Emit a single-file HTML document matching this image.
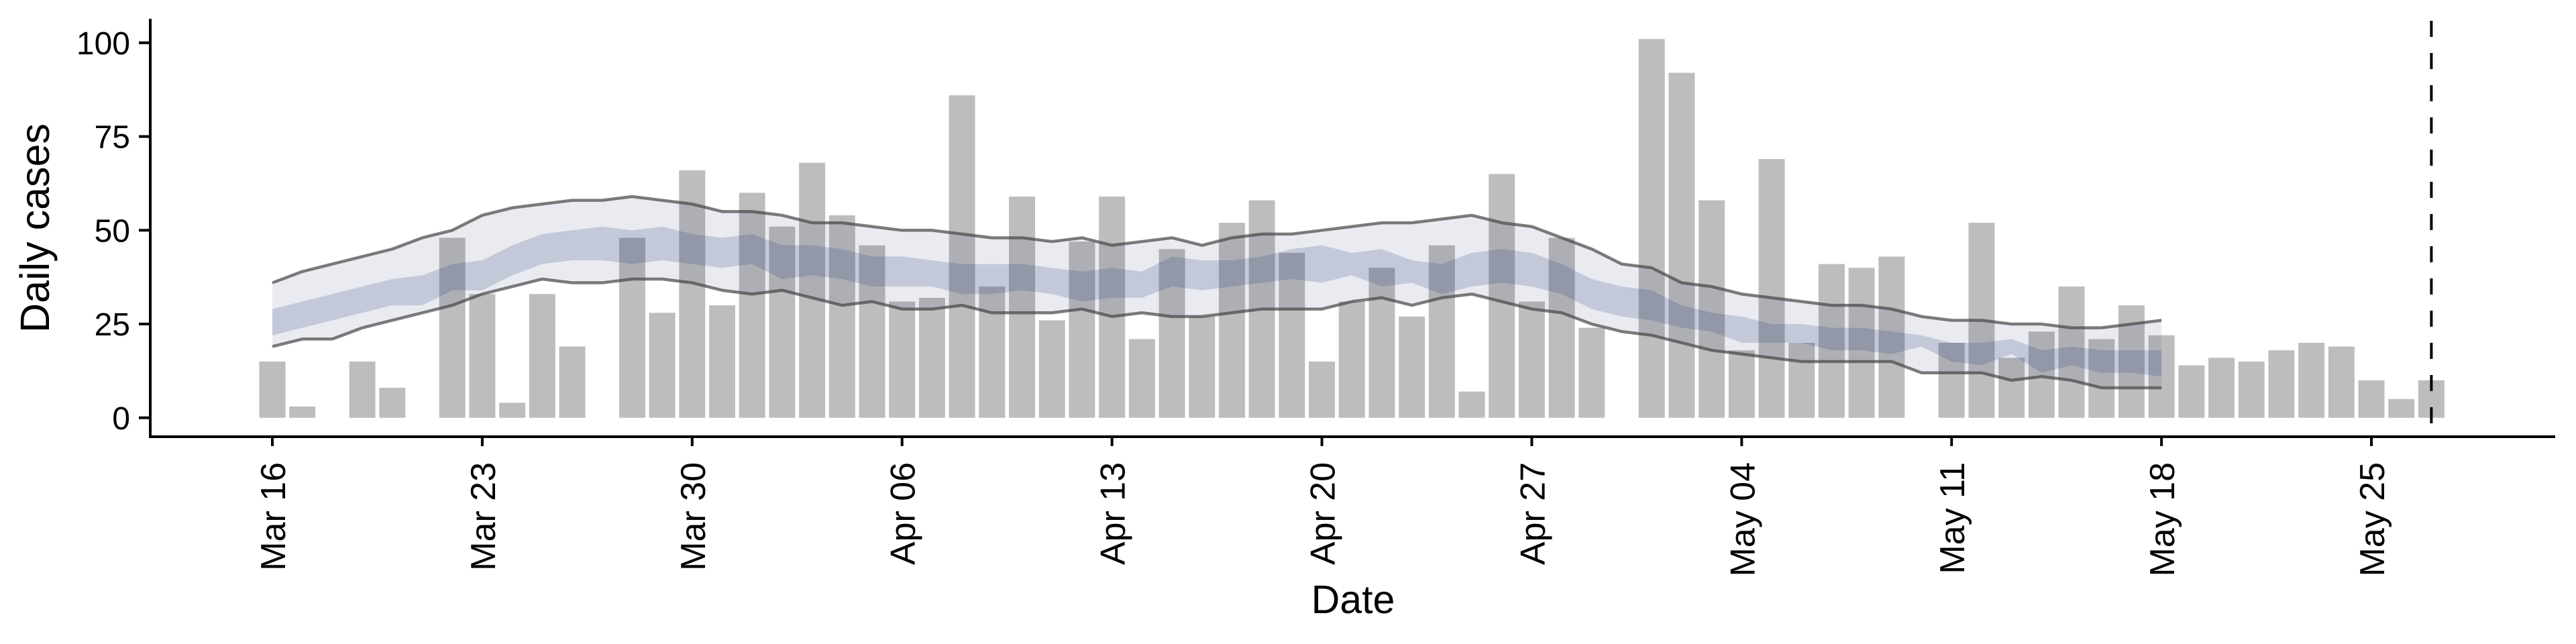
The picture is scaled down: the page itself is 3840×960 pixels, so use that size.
<!DOCTYPE html>
<html><head><meta charset="utf-8"><style>
html,body{margin:0;padding:0;background:#fff}
svg{display:block;font-family:"Liberation Sans",sans-serif}
</style></head><body>
<svg id="chart" width="3840" height="960" viewBox="0 0 3840 960" xmlns="http://www.w3.org/2000/svg">
<g id="bars"></g>
<g id="ribbons"></g>
<g id="axes"></g>
</svg>
<script>
// day index from Mar 16
const caseDays = [0,1,3,4,6,7,8,9,10,12,13,14,15,16,17,18,19,20,21,22,23,24,25,26,27,28,29,30,31,32,33,34,35,36,37,38,39,40,41,42,43,44,46,47,48,49,50,51,52,53,54,56,57,58,59,60,61,62,63,64,65,66,67,68,69,70,71,72];
const caseValues = [15,3,15,8,48,33,4,33,19,48,28,66,30,60,51,68,54,46,31,32,86,35,59,26,47,59,21,45,27,52,58,44,15,31,40,27,46,7,65,31,48,24,101,92,58,18,69,20,41,40,43,20,52,16,23,35,21,30,22,14,16,15,18,20,19,10,5,10];
const outerUpper = [36,39,41,43,45,48,50,54,56,57,58,58,59,58,57,55,55,54,52,52,51,50,50,49,48,48,47,48,46,47,48,46,48,49,49,50,51,52,52,53,54,52,51,48,45,41,40,36,35,33,32,31,30,30,29,27,26,26,25,25,24,24,25,26];
const outerLower = [19,21,21,24,26,28,30,33,35,37,36,36,37,37,36,34,33,34,32,30,31,29,29,30,28,28,28,29,27,28,27,27,28,29,29,29,31,32,30,32,33,31,29,28,25,23,22,20,18,17,16,15,15,15,15,12,12,12,10,11,10,8,8,8];
const innerUpper = [29,31,33,35,37,38,41,42,46,49,50,51,50,51,49,48,49,46,46,45,43,43,42,41,41,41,40,39,40,39,43,42,42,43,45,46,44,45,42,41,44,45,44,41,37,35,34,30,28,27,25,25,24,24,23,22,20,20,21,18,19,18,18,18];
const innerLower = [22,24,26,28,30,30,34,34,38,41,42,42,41,42,41,40,41,37,38,37,35,35,35,33,33,34,33,31,32,32,35,34,35,36,37,36,38,35,36,33,35,36,35,33,29,27,26,24,23,20,20,20,18,18,17,19,15,14,17,12,14,12,12,11];
const yTicks = [0,25,50,75,100];
const xTickDays = [0,7,14,21,28,35,42,49,56,63,70];
const xTickLabels = ["Mar 16","Mar 23","Mar 30","Apr 06","Apr 13","Apr 20","Apr 27","May 04","May 11","May 18","May 25"];
const forecastDay = 72;

const NS="http://www.w3.org/2000/svg";
const X0=406, DX=44.7, Y0=622.8, DY=5.59;
function xs(d){return X0+DX*d;}
function ys(v){return Y0-DY*v;}
function mk(tag,attrs,parent){const e=document.createElementNS(NS,tag);for(const k in attrs)e.setAttribute(k,attrs[k]);parent.appendChild(e);return e;}

const gb=document.getElementById('bars');
caseDays.forEach((d,i)=>{
  const v=caseValues[i];
  const r=mk('rect',{x:xs(d)-19.5,y:ys(v),width:39,height:Y0-ys(v),fill:'#bdbdbd'},gb);
  
  
});

const gr=document.getElementById('ribbons');
function band(up,lo,fill,op,name){
  let p='';
  up.forEach((v,i)=>{p+=(i?'L':'M')+xs(i)+','+ys(v);});
  for(let i=lo.length-1;i>=0;i--)p+='L'+xs(i)+','+ys(lo[i]);
  const e=mk('path',{d:p+'Z',fill:fill,'fill-opacity':op},gr);
  
  
}
band(outerUpper,outerLower,'#1e326e',0.098,'outer-interval-band');
band(innerUpper,innerLower,'#1e326e',0.18,'inner-interval-band');
function line(arr,name){
  let p='';arr.forEach((v,i)=>{p+=(i?'L':'M')+xs(i)+','+ys(v);});
  const e=mk('path',{d:p,fill:'none',stroke:'#444','stroke-opacity':0.7,'stroke-width':4.5,'stroke-linejoin':'round'},gr);
  
  
}
line(outerUpper,'upper-bound-line');
line(outerLower,'lower-bound-line');

const ga=document.getElementById('axes');
let e;
e=mk('line',{x1:224,y1:28,x2:224,y2:653,stroke:'#000','stroke-width':4},ga);

e=mk('line',{x1:222,y1:651,x2:3809,y2:651,stroke:'#000','stroke-width':4},ga);

yTicks.forEach(v=>{
  const t=mk('line',{x1:207,y1:ys(v),x2:224,y2:ys(v),stroke:'#000','stroke-width':4},ga);
  
  const l=mk('text',{x:194,y:ys(v)+17,'text-anchor':'end','font-size':48,fill:'#000'},ga);
  l.textContent=v;
  
});
xTickDays.forEach((d,i)=>{
  const t=mk('line',{x1:xs(d),y1:651,x2:xs(d),y2:665,stroke:'#000','stroke-width':4},ga);
  
  const l=mk('text',{transform:`translate(${xs(d)+19},689) rotate(-90)`,'text-anchor':'end','font-size':52,fill:'#000'},ga);
  l.textContent=xTickLabels[i];
  
});
e=mk('line',{x1:xs(forecastDay),y1:31,x2:xs(forecastDay),y2:651,stroke:'#000','stroke-width':4,'stroke-dasharray':'24,24'},ga);

e=mk('text',{transform:'translate(73,340) rotate(-90)','text-anchor':'middle','font-size':61,fill:'#000'},ga);
e.textContent='Daily cases';

e=mk('text',{x:2017,y:914,'text-anchor':'middle','font-size':59,fill:'#000'},ga);
e.textContent='Date';

</script>
</body></html>
